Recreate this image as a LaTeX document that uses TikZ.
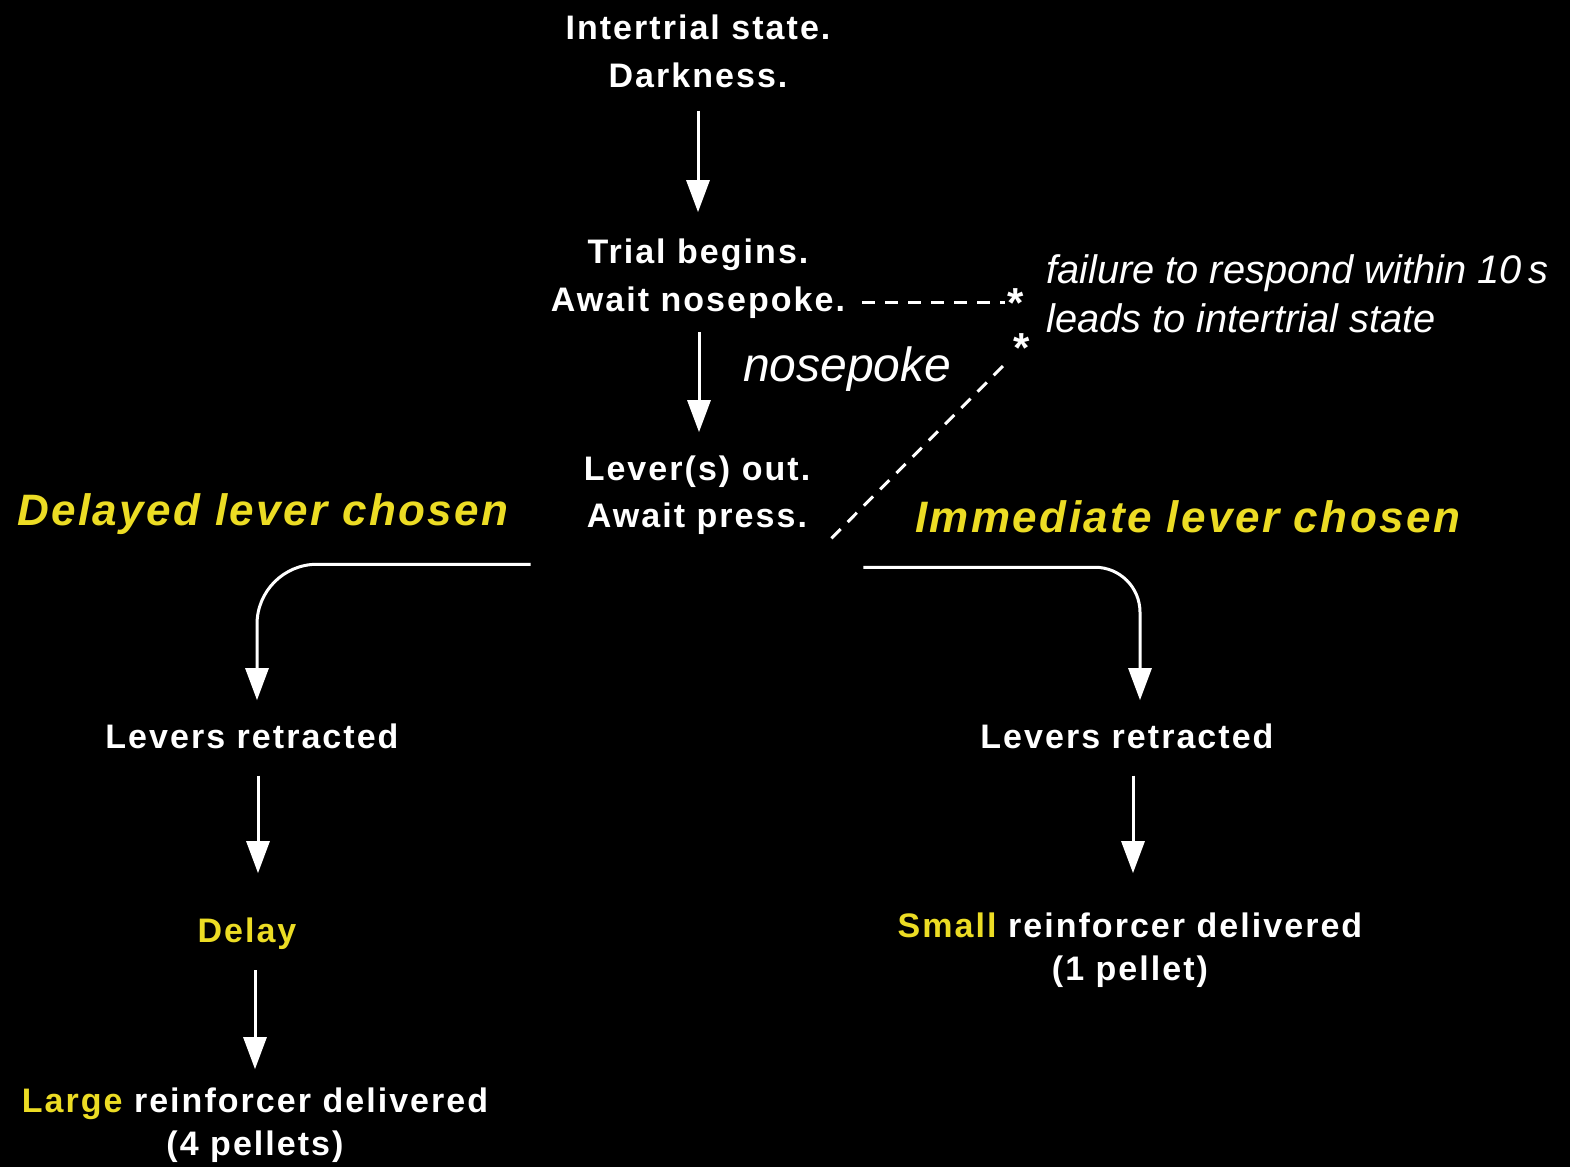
\documentclass[tikz,border=0pt]{standalone}
\usepackage{fontspec}
\setmainfont{Liberation Sans}
\newfontfamily\bodyfont[LetterSpace=6]{Liberation Sans}
\newfontfamily\headfont[LetterSpace=5.5]{Liberation Sans}
\usetikzlibrary{arrows.meta}
\definecolor{labyellow}{RGB}{236,220,36}
\begin{document}
\begin{tikzpicture}[x=1pt,y=-1pt,
  box/.style={inner sep=0pt, text=white, align=center, anchor=base,
    font=\bodyfont\bfseries\fontsize{34}{48}\selectfont},
  boxtight/.style={box, font=\bodyfont\bfseries\fontsize{34}{43}\selectfont},
  head/.style={inner sep=0pt, text=labyellow, anchor=base west,
    font=\headfont\bfseries\itshape\fontsize{44}{52}\selectfont},
  note/.style={inner sep=0pt, text=white, anchor=base west, align=left,
    font=\itshape\fontsize{39.8}{49}\selectfont},
  starmark/.style={inner sep=0pt, text=white, font=\bfseries\fontsize{42}{42}\selectfont,
    text height=30pt, text depth=-18pt},
  arr/.style={draw=white, line width=3pt, -{Triangle[width=23pt,length=32pt]}},
  dsh/.style={draw=white, line width=3pt, dash pattern=on 13pt off 10pt}]
\fill[black] (0,0) rectangle (1570,1167);
\useasboundingbox (0,0) rectangle (1570,1167);

% main column (base anchor = baseline of the last line)
\node[box] (n1) at (698,87) {Intertrial state.\\Darkness.};
\node[box] (n2) at (698,311) {Trial begins.\\Await nosepoke.};
\node[box, font=\bodyfont\bfseries\fontsize{34}{47}\selectfont] (n3) at (697,527) {Lever(s) out.\\Await press.};

\node[inner sep=0pt, text=white, anchor=base west, font=\itshape\fontsize{48}{56}\selectfont] (np) at (743,381) {nosepoke};

\node[note] (fail) at (1046,332) {failure to respond within 10\,s\\leads to intertrial state};
\node[starmark] (s1) at (1016,302) {*};
\node[starmark] (s2) at (1022,347) {*};

\node[head] (dl) at (17,525) {Delayed lever chosen};
\node[head] (il) at (915,532) {Immediate lever chosen};

% left column
\node[box] (l1) at (252,748) {Levers retracted};
\node[box, text=labyellow] (l2) at (247,942) {Delay};
\node[boxtight] (l3) at (255,1155) {{\color{labyellow}Large} reinforcer delivered\\(4 pellets)};

% right column
\node[box] (r1) at (1127,748) {Levers retracted};
\node[boxtight] (r2) at (1130,980) {{\color{labyellow}Small} reinforcer delivered\\(1 pellet)};

% connectors
\draw[arr, shorten <=23pt, shorten >=26pt] (n1.south) -- (n1.south |- n2.north);
\draw[arr, shorten <=14pt, shorten >=23pt] ([xshift=1pt]n2.south) -- ([xshift=1pt]n2.south |- n3.north);

\draw[dsh, shorten <=17pt, shorten >=3pt] (s1.west -| n2.east) -- (s1.west);
\draw[dsh, shorten >=7pt] ([xshift=21pt,yshift=-4pt]n3.south east) -- (s2);

\draw[arr, rounded corners=60pt] ([xshift=-53pt,yshift=-30pt]n3.south west) -| ([xshift=5pt,yshift=23pt]l1.north);
\draw[arr, rounded corners=45pt] ([xshift=53pt,yshift=-33pt]n3.south east) -| ([xshift=13pt,yshift=23pt]r1.north);

\draw[arr, shorten <=27pt, shorten >=44pt] ([xshift=6pt]l1.south) -- ([xshift=6pt]l1.south |- l2.north);
\draw[arr, shorten <=21pt, shorten >=18pt] ([xshift=8pt]l2.south) -- ([xshift=8pt]l2.south |- l3.north);
\draw[arr, shorten <=27pt, shorten >=39pt] ([xshift=6pt]r1.south) -- ([xshift=6pt]r1.south |- r2.north);
\end{tikzpicture}
\end{document}
